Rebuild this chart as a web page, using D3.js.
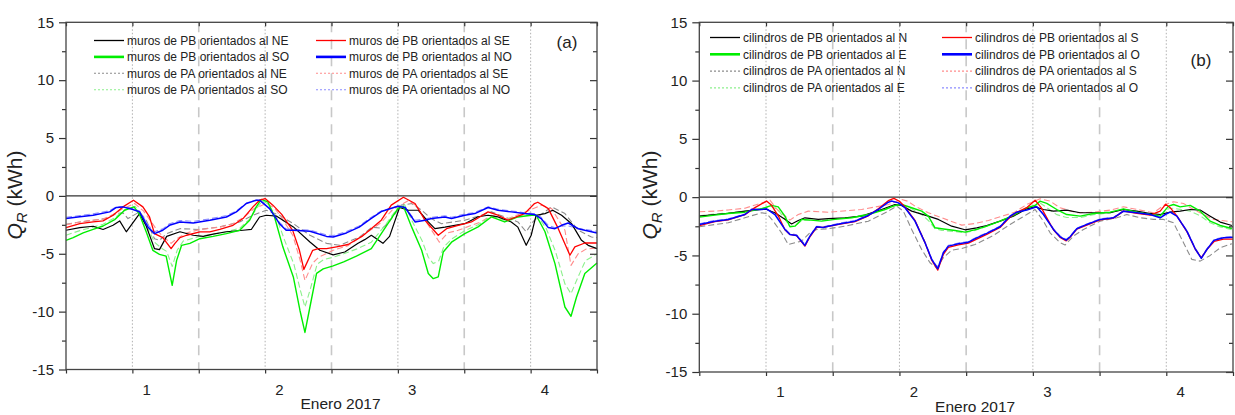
<!DOCTYPE html>
<html><head><meta charset="utf-8">
<script src="https://cdn.jsdelivr.net/npm/d3@7"></script>
<style>
body{margin:0;background:#fff}
svg{display:block}
text{font-family:"Liberation Sans",Arial,sans-serif;fill:#222}
</style>
</head><body>
<svg id="chart" width="1235" height="415"></svg>
<script>
// ---- DATA (hours since 0:00 of day 0, Q_R in kWh) ----
const dayTicks = [1, 2, 3, 4];
const dayLabels = ["1", "2", "3", "4"];
const yTicks = [-15, -10, -5, 0, 5, 10, 15];
const xLabel = "Enero 2017";

// Panel (a): muros
const murosPB_NE = [[12,-2.97],[14.5,-2.74],[16.9,-2.62],[18.7,-2.9],[20.5,-2.54],[21.7,-2.16],[22.9,-3.1],[25.3,-1.53],[26.5,-2.6],[28,-4.56],[28.9,-4.64],[30.2,-3.5],[32.6,-3.1],[35,-3.4],[36.8,-3.5],[38.6,-3.3],[41,-3.1],[44,-2.97],[45.5,-2.9],[47,-1.82],[48.2,-1.67],[50.1,-1.75],[53.1,-2.68],[56.1,-3.98],[57.9,-4.7],[60.3,-5.1],[62.4,-4.85],[64.8,-4.1],[66,-3.78],[67.2,-3.4],[69.3,-4.1],[70.5,-3.5],[72.3,-1.0],[73.9,-1.24],[75.7,-1.24],[77.5,-2.25],[78.7,-2.83],[80.5,-2.7],[84.1,-2.4],[86.5,-1.8],[88.3,-1.67],[90.1,-1.82],[92.5,-2.25],[93.7,-2.7],[95.2,-4.27],[96.1,-3.4],[97,-1.67],[98.6,-1.53],[100,-1.24],[101.6,-1.67],[103.4,-2.4],[105.2,-3.84],[106.4,-4.27],[108,-4.56]];
const murosPB_SE = [[12,-2.74],[14.5,-2.4],[16.9,-2.25],[18.7,-2.16],[20.5,-1.67],[22.3,-0.95],[24.2,-0.37],[25.9,-0.95],[27.1,-1.82],[28,-3.26],[29.5,-3.6],[31,-4.56],[31.7,-4.1],[32.6,-3.6],[33.8,-3.4],[36.2,-3.1],[38,-3.1],[39.8,-2.9],[42.2,-2.54],[44,-1.96],[45.8,-0.95],[47,-0.37],[48,-0.23],[49.4,-0.8],[51,-1.6],[53,-3.0],[54.2,-4.7],[55,-6.35],[56.6,-4.7],[57.6,-4.56],[59.1,-4.56],[60.9,-4.4],[63,-4.2],[65.5,-3.5],[69,-2.1],[70.8,-0.8],[73,-0.12],[75.1,-0.66],[76.9,-2.1],[79.3,-3.4],[80.8,-2.83],[82.9,-2.54],[85.3,-2.25],[88.3,-1.38],[90.1,-1.67],[91.9,-2.1],[94.9,-1.53],[96.7,-0.66],[97.3,-0.55],[99.2,-1.1],[101,-2.83],[103.1,-5.13],[104,-4.4],[105.8,-4.07],[108,-4.07]];
const murosPB_SO = [[12,-3.84],[13.3,-3.6],[15.1,-3.2],[16.9,-2.9],[18.7,-2.6],[20.8,-2.05],[22.6,-1.24],[24.3,-0.95],[25.3,-1.6],[26.5,-3.1],[27.7,-4.7],[28.9,-5.05],[30.1,-5.2],[31.2,-7.73],[32,-5.57],[32.9,-4.27],[34.4,-4.1],[36.2,-3.7],[38.6,-3.5],[41,-3.26],[43.4,-2.97],[45.2,-2.1],[46.4,-0.95],[47.3,-0.3],[48.5,-0.52],[49.7,-1.82],[51.2,-4.4],[53.1,-7.0],[54.3,-9.9],[55.2,-11.8],[56.1,-9.6],[57.3,-6.7],[58.5,-6.3],[60.3,-6.05],[62.2,-5.7],[64.5,-5.2],[67.2,-4.56],[69.6,-2.83],[72,-1.1],[73,-0.9],[74.5,-2.7],[76.3,-4.7],[77.5,-6.7],[78.4,-7.15],[79.3,-7.0],[80.2,-4.85],[81.7,-4.0],[84.1,-3.26],[86.5,-2.68],[88.9,-1.82],[91.3,-2.25],[93.7,-1.82],[96.1,-1.67],[97,-1.67],[98.6,-3.1],[100.4,-5.85],[102.2,-9.6],[103.3,-10.4],[104.3,-8.74],[105.8,-6.7],[108,-5.8]];
const murosPB_NO = [[12,-1.96],[14.5,-1.8],[16.9,-1.67],[19.9,-1.38],[21.1,-1.0],[22.3,-0.95],[24.1,-1.18],[25.3,-1.38],[26.8,-2.68],[28,-3.26],[29.5,-2.97],[30.7,-2.54],[32.6,-2.25],[35,-2.34],[38,-2.1],[41,-1.82],[42.8,-1.38],[44.6,-0.66],[46.4,-0.37],[47,-0.37],[48.8,-1.1],[50.6,-2.4],[51.8,-2.97],[53.1,-2.97],[56.1,-3.06],[59.1,-3.5],[60.3,-3.55],[62.7,-3.2],[65,-2.7],[67,-2.0],[69,-1.35],[72,-0.9],[73.3,-1.0],[75.1,-2.25],[76.9,-2.1],[78.1,-1.96],[80.5,-1.82],[81.7,-1.96],[84.1,-1.67],[85.9,-1.53],[88.3,-1.0],[90.1,-1.24],[92.5,-1.38],[94.9,-1.53],[96.7,-1.6],[97.9,-1.96],[99.2,-2.74],[100.4,-2.83],[101.6,-2.54],[102.8,-2.34],[104.6,-2.83],[105.8,-2.97],[108,-3.2]];
const murosPA_NE = [[12,-2.45],[14.5,-2.25],[16.9,-2.1],[19.3,-1.96],[21.1,-1.53],[22.3,-1.47],[23.2,-1.96],[25.3,-1.38],[26.5,-2.1],[28,-3.7],[28.9,-3.84],[30.2,-3.26],[32.6,-2.83],[36.2,-2.9],[39.8,-2.68],[43.4,-2.25],[45.8,-1.67],[48.2,-1.24],[50.6,-1.67],[53.1,-2.4],[56.1,-3.4],[59.1,-4.1],[61.5,-4.27],[65.1,-3.55],[67.3,-2.7],[69.2,-2.8],[70.5,-2.2],[72.6,-0.8],[74.5,-0.66],[76.3,-1.24],[78,-1.96],[79.9,-2.4],[84.1,-2.1],[87.1,-1.67],[88.9,-1.38],[91.3,-1.82],[93.7,-2.25],[95.2,-3.1],[96.4,-2.25],[97.3,-1.82],[99.8,-0.95],[102.2,-1.53],[104.6,-2.97],[107,-3.55],[108,-3.6]];
const murosPA_SE = [[12,-2.5],[14.5,-2.25],[16.9,-2.1],[18.7,-2.0],[20.5,-1.6],[22.3,-1.1],[24.4,-0.66],[26,-1.3],[27.5,-2.3],[28.5,-3.0],[29.5,-3.5],[31,-4.1],[32,-3.7],[33.8,-3.2],[36.2,-2.9],[39.8,-2.7],[42.2,-2.4],[44,-1.9],[46,-1.1],[48.2,-0.66],[49.6,-1.0],[51,-1.9],[53,-3.4],[54.3,-5.5],[55.2,-7.3],[56.6,-5.8],[57.7,-5.3],[60.3,-4.7],[63,-4.3],[65.1,-3.6],[69,-2.3],[71,-1.2],[73.9,-0.4],[75.5,-0.9],[77.2,-2.3],[79.5,-4.0],[81,-3.2],[82.9,-2.97],[87,-2.25],[88.9,-1.67],[91.9,-1.96],[95.5,-1.3],[98,-0.8],[99.8,-1.1],[102.2,-2.97],[103.3,-6.0],[104.6,-5.0],[106,-4.6],[108,-4.5]];
const murosPA_SO = [[12,-3.4],[14.5,-3.0],[16.9,-2.7],[18.7,-2.45],[20.8,-1.9],[22.6,-1.2],[24.5,-0.9],[25.5,-1.5],[26.8,-2.8],[28,-4.0],[29.2,-4.5],[30.2,-4.8],[31.2,-6.1],[32.1,-4.7],[33.2,-3.9],[36.2,-3.5],[38.6,-3.3],[41,-3.1],[43.4,-2.8],[45.2,-2.0],[46.6,-1.0],[47.5,-0.45],[48.6,-0.7],[50,-1.8],[51.5,-3.8],[53.2,-5.9],[54.4,-8.2],[55.2,-9.6],[56.2,-8.0],[57.4,-5.9],[58.6,-5.5],[60.3,-5.3],[62.2,-5.0],[64.5,-4.6],[67.2,-4.0],[69.6,-2.6],[72,-1.0],[73.2,-0.75],[74.6,-2.2],[76.4,-3.9],[77.5,-5.3],[78.4,-5.85],[79.4,-5.6],[80.3,-4.4],[81.8,-3.7],[84.1,-3.0],[86.5,-2.5],[88.9,-1.75],[91.3,-2.1],[93.7,-1.75],[96.1,-1.6],[97.2,-1.7],[98.8,-2.8],[100.5,-4.8],[102.2,-7.6],[103.3,-8.45],[104.4,-7.2],[105.9,-5.6],[108,-5.0]];
const murosPA_NO = [[12,-1.85],[14.5,-1.7],[16.9,-1.55],[19.9,-1.28],[21.1,-0.95],[22.3,-0.92],[24.1,-1.1],[25.3,-1.3],[26.8,-2.5],[28,-3.1],[29.5,-2.85],[30.7,-2.4],[32.6,-2.12],[35,-2.2],[38,-1.98],[41,-1.7],[42.8,-1.3],[44.6,-0.62],[46.4,-0.35],[47,-0.38],[48.8,-1.05],[50.6,-2.3],[51.8,-2.85],[53.1,-2.88],[56.1,-2.95],[59.1,-3.38],[60.3,-3.42],[62.7,-3.08],[65,-2.6],[67,-1.9],[69,-1.3],[72,-0.88],[73.3,-1.0],[75.1,-2.1],[76.9,-2.0],[78.1,-1.85],[80.5,-1.72],[81.7,-1.85],[84.1,-1.57],[85.9,-1.43],[88.3,-0.95],[90.1,-1.15],[92.5,-1.3],[94.9,-1.45],[96.7,-1.55],[97.9,-1.85],[99.2,-2.55],[100.4,-2.75],[101.6,-2.6],[102.8,-2.6],[104.6,-2.8],[105.8,-2.9],[108,-3.05]];

// Panel (b): cilindros
const cilPB_N = [[12,-1.63],[14.8,-1.49],[17.2,-1.4],[20.2,-1.2],[23.2,-1.06],[24.1,-1.06],[25.6,-1.34],[27.4,-1.9],[28.6,-2.3],[29.8,-2.0],[31,-1.77],[33.4,-1.91],[35.2,-1.85],[38.2,-1.77],[41.2,-1.63],[44.8,-1.06],[47.2,-0.63],[48.4,-0.71],[50.2,-1.2],[53.2,-1.63],[55,-1.91],[57.4,-2.49],[59.8,-2.8],[61.9,-2.63],[63.7,-2.43],[66.1,-2.06],[68.5,-1.63],[70.9,-1.0],[72.4,-0.83],[73.9,-1.06],[75.7,-1.2],[78.1,-1.11],[80.5,-1.34],[82.9,-1.34],[85.9,-1.34],[88.3,-1.06],[90.7,-1.2],[93.1,-1.4],[94.9,-1.49],[96.7,-1.29],[98.5,-1.2],[100.3,-1.06],[102.1,-1.11],[103.9,-1.63],[105.7,-2.14],[107.8,-2.43]];
const cilPB_S = [[12,-2.45],[14.8,-2.1],[17.2,-1.95],[20.2,-1.5],[22,-0.9],[24.1,-0.34],[25,-0.7],[26.2,-1.6],[27.4,-2.8],[28.3,-3.2],[29.5,-3.3],[31,-4.2],[31.9,-3.4],[33.1,-2.6],[34.3,-2.6],[35.2,-2.5],[37.6,-2.3],[40,-2.1],[42.4,-1.6],[44.2,-1.0],[46,-0.3],[47,-0.1],[48,-0.35],[49,-0.85],[50.8,-2.0],[52.6,-3.9],[53.8,-5.4],[54.9,-6.26],[55.9,-4.9],[56.8,-4.3],[58.6,-4.1],[60.4,-3.95],[61.9,-3.6],[63.7,-3.2],[66.1,-2.6],[67.9,-1.7],[69.1,-1.3],[70.9,-0.9],[72.4,-0.26],[73.5,-0.9],[75.7,-2.8],[76.9,-3.45],[78,-3.75],[78.7,-3.45],[79.9,-2.75],[81.7,-2.4],[84.1,-1.95],[86.5,-1.8],[88.3,-1.2],[90.7,-1.4],[93.1,-1.55],[94.9,-1.2],[95.9,-0.6],[96.7,-0.9],[97.9,-1.6],[99.7,-2.95],[101.2,-4.45],[102.3,-5.2],[103.3,-4.5],[104.6,-3.8],[106.3,-3.6],[108,-3.6]];
const cilPB_E = [[12,-1.71],[14.8,-1.54],[17.2,-1.4],[20.2,-1.29],[23.2,-1.0],[25,-0.71],[26.2,-0.83],[27.4,-1.63],[28.3,-2.54],[29.2,-2.49],[30.4,-1.91],[31.6,-1.95],[34,-2.06],[36.4,-1.91],[39.4,-1.77],[42.4,-1.49],[45.4,-1.06],[47.2,-0.71],[48.4,-0.63],[50.2,-0.91],[52,-1.2],[53.2,-1.63],[54.4,-2.63],[55.6,-2.71],[58,-2.86],[59.8,-3.0],[61.9,-2.77],[63.7,-2.49],[66.1,-2.06],[68.5,-1.57],[70.9,-0.91],[72.4,-0.71],[73.3,-0.34],[74.5,-0.54],[76.3,-1.06],[78.1,-1.49],[80.5,-1.63],[82.9,-1.4],[85.9,-1.29],[88.3,-1.0],[90.7,-1.29],[93.1,-1.49],[94.9,-1.63],[96.4,-0.77],[97.3,-0.63],[98.5,-0.83],[100.3,-0.71],[102.1,-1.2],[103.9,-2.06],[105.7,-2.43],[107.8,-2.69]];
const cilPB_O = [[12,-2.34],[14.8,-2.06],[17.2,-1.91],[20.2,-1.49],[21.4,-1.06],[23.2,-1.06],[24.1,-1.0],[25.6,-1.49],[27.4,-2.77],[28.3,-3.2],[29.5,-3.29],[31,-4.14],[31.9,-3.34],[33.1,-2.54],[34.3,-2.6],[35.2,-2.49],[37.6,-2.26],[40,-2.06],[42.4,-1.57],[44.2,-1.06],[46,-0.43],[46.6,-0.34],[47.8,-0.49],[49,-0.91],[50.8,-2.06],[52.6,-3.91],[53.8,-5.34],[54.9,-6.14],[55.9,-4.77],[56.8,-4.2],[58.6,-4.0],[60.4,-3.86],[61.9,-3.49],[63.7,-3.11],[66.1,-2.54],[67.9,-1.63],[69.1,-1.29],[70.9,-1.11],[72.7,-0.83],[73.9,-1.49],[75.7,-2.77],[76.9,-3.4],[78,-3.69],[78.7,-3.4],[79.9,-2.71],[81.7,-2.34],[84.1,-1.91],[86.5,-1.77],[88.3,-1.2],[90.7,-1.34],[93.1,-1.49],[94.9,-1.77],[95.8,-1.49],[96.7,-1.29],[97.9,-1.63],[99.7,-2.91],[101.2,-4.43],[102.3,-5.25],[103.3,-4.49],[104.6,-3.69],[106.3,-3.49],[108,-3.45]];
const cilPA_N = [[12,-2.54],[14.8,-2.35],[17.2,-2.2],[20.2,-1.77],[23.2,-1.34],[24.1,-1.4],[25.3,-2.06],[26.8,-3.06],[28,-4.06],[29.2,-3.91],[30.4,-3.77],[31.9,-3.06],[33.1,-2.77],[35.2,-2.71],[38.2,-2.49],[42.4,-2.06],[46,-1.2],[47.5,-0.77],[48.7,-1.2],[50.2,-2.77],[52,-4.49],[53.5,-5.63],[54.7,-6.06],[55.9,-5.2],[57.4,-4.55],[59.2,-4.4],[61.6,-4.06],[64.9,-3.29],[67.9,-2.34],[70.9,-1.49],[72.4,-1.06],[73.9,-2.06],[75.1,-3.06],[76.9,-3.91],[77.8,-4.11],[79.3,-3.34],[81.1,-2.77],[84.1,-2.06],[87.1,-1.77],[88.9,-1.49],[91.3,-1.77],[93.7,-1.91],[95.5,-1.91],[97.3,-2.2],[99.1,-3.91],[100.6,-5.34],[102.1,-5.49],[103.9,-5.0],[105.7,-4.34],[107.8,-4.0]];
const cilPA_S = [[12,-1.25],[14.8,-1.2],[17.2,-1.1],[20.2,-0.95],[23.2,-0.5],[24.7,-0.26],[26,-1.06],[28.3,-1.97],[29.8,-1.49],[31.6,-1.2],[35.2,-1.29],[41.2,-1.06],[46,-0.63],[48.4,-0.2],[49.5,-0.35],[50.8,-0.77],[53.2,-1.34],[55.6,-1.77],[59.2,-2.4],[61.6,-2.26],[64,-2.0],[66.7,-1.6],[68.7,-1.3],[70.9,-0.63],[73.3,-0.14],[75.1,-0.34],[76.9,-0.91],[79.9,-1.34],[82.9,-1.29],[85.9,-1.11],[88.3,-0.83],[91.3,-1.11],[93.7,-1.34],[95.8,-0.63],[97.3,-0.4],[99.1,-0.54],[100.9,-1.06],[102.7,-1.49],[104.5,-1.91],[107.8,-2.11]];
const cilPA_E = [[12,-1.6],[14.8,-1.45],[17.2,-1.35],[20.2,-1.2],[23.2,-0.95],[25,-0.8],[26.2,-1.1],[27.4,-1.9],[28.3,-2.5],[29.2,-2.5],[30.4,-2.0],[31.6,-2.0],[34,-2.0],[36.4,-1.85],[39.4,-1.72],[42.4,-1.45],[45.4,-1.05],[47.2,-0.75],[48.4,-0.7],[50.2,-1.0],[52,-1.5],[53.2,-2.0],[54.4,-2.7],[55.6,-2.85],[58,-2.95],[59.8,-3.05],[61.6,-2.85],[63.7,-2.5],[66.1,-2.05],[68.5,-1.55],[70.9,-0.95],[72.4,-0.75],[73.3,-0.5],[74.5,-0.9],[76.3,-1.5],[78.1,-1.75],[80.5,-1.75],[82.9,-1.5],[85.9,-1.35],[88.3,-1.05],[90.7,-1.3],[93.1,-1.5],[94.9,-1.55],[96.4,-1.0],[97.3,-0.95],[98.5,-1.05],[100.3,-1.2],[102.1,-1.6],[103.9,-2.2],[105.7,-2.55],[107.8,-2.8]];
const cilPA_O = [[12,-2.28],[14.8,-2.0],[17.2,-1.86],[20.2,-1.44],[21.4,-1.02],[23.2,-1.02],[24.1,-0.97],[25.6,-1.45],[27.4,-2.7],[28.3,-3.12],[29.5,-3.22],[31,-4.06],[31.9,-3.3],[33.1,-2.5],[34.3,-2.55],[35.2,-2.44],[37.6,-2.2],[40,-2.0],[42.4,-1.52],[44.2,-1.02],[46,-0.4],[46.6,-0.32],[47.8,-0.46],[49,-0.88],[50.8,-2.0],[52.6,-3.85],[53.8,-5.28],[54.9,-6.05],[55.9,-4.7],[56.8,-4.14],[58.6,-3.93],[60.4,-3.8],[61.9,-3.43],[63.7,-3.05],[66.1,-2.48],[67.9,-1.6],[69.1,-1.26],[70.9,-1.08],[72.7,-0.8],[73.9,-1.45],[75.7,-2.7],[76.9,-3.33],[78,-3.62],[78.7,-3.35],[79.9,-2.66],[81.7,-2.3],[84.1,-1.87],[86.5,-1.72],[88.3,-1.16],[90.7,-1.3],[93.1,-1.45],[94.9,-1.72],[95.8,-1.45],[96.7,-1.26],[97.9,-1.6],[99.7,-2.85],[101.2,-4.36],[102.3,-5.18],[103.3,-4.43],[104.6,-3.63],[106.3,-3.43],[108,-3.4]];

const labelsA = ["muros de PB orientados al NE","muros de PB orientados al SE","muros de PB orientados al SO","muros de PB orientados al NO","muros de PA orientados al NE","muros de PA orientados al SE","muros de PA orientados al SO","muros de PA orientados al NO"];
const labelsB = ["cilindros de PB orientados al N","cilindros de PB orientados al S","cilindros de PB orientados al E","cilindros de PB orientados al O","cilindros de PA orientados al N","cilindros de PA orientados al S","cilindros de PA orientados al E","cilindros de PA orientados al O"];

// ---- STYLES ----
const styles = [
  {c:"#000000", w:1.2, dash:null, lw:1.3},
  {c:"#ff0000", w:1.3, dash:null, lw:1.3},
  {c:"#00ee00", w:1.4, dash:null, lw:2.6},
  {c:"#0000ff", w:1.5, dash:null, lw:2.6},
  {c:"#8c8c8c", w:1.1, dash:"6,3", lw:1.1},
  {c:"#ff8c8c", w:1.1, dash:"6,3", lw:1.1},
  {c:"#8cf08c", w:1.1, dash:"6,3", lw:1.1},
  {c:"#8c8cff", w:1.1, dash:"6,3", lw:1.1}
];

const svg = d3.select("#chart");

function panel(cfg) {
  const x = d3.scaleLinear().domain([12, 108]).range([cfg.x0, cfg.x1]);
  const y = d3.scaleLinear().domain([-15, 15]).range([cfg.y1, cfg.y0]);
  const g = svg.append("g");

  // guide lines
  g.selectAll(".dot").data(dayTicks).enter().append("line")
    .attr("x1", d => x(d*24)).attr("x2", d => x(d*24))
    .attr("y1", cfg.y0).attr("y2", cfg.y1)
    .attr("stroke", "#b0b0b0").attr("stroke-width", 1).attr("stroke-dasharray", "1.5,2");
  g.selectAll(".dash").data([1.5, 2.5, 3.5]).enter().append("line")
    .attr("x1", d => x(d*24)).attr("x2", d => x(d*24))
    .attr("y1", cfg.y0).attr("y2", cfg.y1)
    .attr("stroke", "#c8c8c8").attr("stroke-width", 1.6).attr("stroke-dasharray", "10,7");

  // zero line
  g.append("line").attr("x1", cfg.x0).attr("x2", cfg.x1).attr("y1", y(0)).attr("y2", y(0))
    .attr("stroke", "#333").attr("stroke-width", 1.3);

  // series
  const line = d3.line().x(d => x(d[0])).y(d => y(d[1]));
  const order = [4,5,6,7,0,2,1,3];
  order.forEach(i => {
    const s = styles[i];
    g.append("path").datum(cfg.series[i]).attr("d", line)
      .attr("fill", "none").attr("stroke", s.c).attr("stroke-width", s.w)
      .attr("stroke-linejoin", "round")
      .attr("stroke-dasharray", s.dash);
  });

  // axes
  const half = d3.range(12, 109, 12);
  const minorY = [-12.5, -7.5, -2.5, 2.5, 7.5, 12.5];
  const axG = (a, tx, ty) => {
    const ag = g.append("g").attr("transform", `translate(${tx},${ty})`).call(a);
    ag.select(".domain").remove();
    ag.selectAll("line").attr("stroke", "#333").attr("stroke-width", 1.2);
    return ag;
  };
  axG(d3.axisLeft(y).tickValues(yTicks).tickSize(7).tickFormat(""), cfg.x0, 0);
  axG(d3.axisLeft(y).tickValues(minorY).tickSize(4).tickFormat(""), cfg.x0, 0);
  axG(d3.axisRight(y).tickValues(yTicks).tickSize(-7).tickFormat(""), cfg.x1, 0);
  axG(d3.axisRight(y).tickValues(minorY).tickSize(-4).tickFormat(""), cfg.x1, 0);
  axG(d3.axisBottom(x).tickValues(half).tickSize(4).tickFormat(""), 0, cfg.y1);
  axG(d3.axisTop(x).tickValues(half).tickSize(-4).tickFormat(""), 0, cfg.y0);

  // frame
  g.append("rect").attr("x", cfg.x0).attr("y", cfg.y0)
    .attr("width", cfg.x1 - cfg.x0).attr("height", cfg.y1 - cfg.y0)
    .attr("fill", "none").attr("stroke", "#444").attr("stroke-width", 1.3);

  // tick labels
  g.selectAll(".yl").data(yTicks).enter().append("text")
    .attr("x", cfg.x0 - 12).attr("y", d => y(d) + 5.3)
    .attr("text-anchor", "end").attr("font-size", 15).text(d => d);
  g.selectAll(".xl").data(dayTicks).enter().append("text")
    .attr("x", (d) => x(d*24 + 2.6)).attr("y", cfg.y1 + 25)
    .attr("text-anchor", "middle").attr("font-size", 15).text((d, i) => dayLabels[i]);
  g.append("text").attr("x", (cfg.x0 + cfg.x1)/2 + 9).attr("y", cfg.y1 + 39.5)
    .attr("text-anchor", "middle").attr("font-size", 15.5).text(xLabel);

  // y label
  const yl = g.append("text")
    .attr("transform", `translate(${cfg.x0 - cfg.ylab},195) rotate(-90)`)
    .attr("text-anchor", "middle").attr("font-size", 21);
  yl.append("tspan").attr("font-style", "italic").text("Q");
  yl.append("tspan").attr("font-size", 15).attr("font-style", "italic").attr("dy", 5).text("R");
  yl.append("tspan").attr("dy", -5).text(" (kWh)");

  // legend
  cfg.labels.forEach((lab, i) => {
    const col = i % 2, row = Math.floor(i / 2);
    const ly = cfg.legY + row * cfg.legStep;
    const lx = cfg.legX[col];
    const s = styles[i];
    g.append("line").attr("x1", lx).attr("x2", lx + 30).attr("y1", ly).attr("y2", ly)
      .attr("stroke", s.c).attr("stroke-width", s.lw)
      .attr("stroke-dasharray", s.dash ? "2,2" : null);
    g.append("text").attr("x", lx + 33).attr("y", ly + 4.3).attr("font-size", 12).text(lab);
  });
  g.append("text").attr("x", cfg.tagX).attr("y", cfg.tagY).attr("text-anchor", "middle")
    .attr("font-size", 17).text(cfg.tag);
}

panel({x0:66, x1:597, y0:22.3, y1:369.5, ylab:44,
  series:[murosPB_NE, murosPB_SE, murosPB_SO, murosPB_NO, murosPA_NE, murosPA_SE, murosPA_SO, murosPA_NO],
  labels: labelsA, legX:[94, 316], legY:40.5, legStep:16.4, tag:"(a)", tagX:567, tagY:48});
panel({x0:699.3, x1:1233, y0:22.3, y1:372, ylab:42,
  series:[cilPB_N, cilPB_S, cilPB_E, cilPB_O, cilPA_N, cilPA_S, cilPA_E, cilPA_O],
  labels: labelsB, legX:[710, 942], legY:37.5, legStep:16.8, tag:"(b)", tagX:1201, tagY:66});
</script>
</body></html>
